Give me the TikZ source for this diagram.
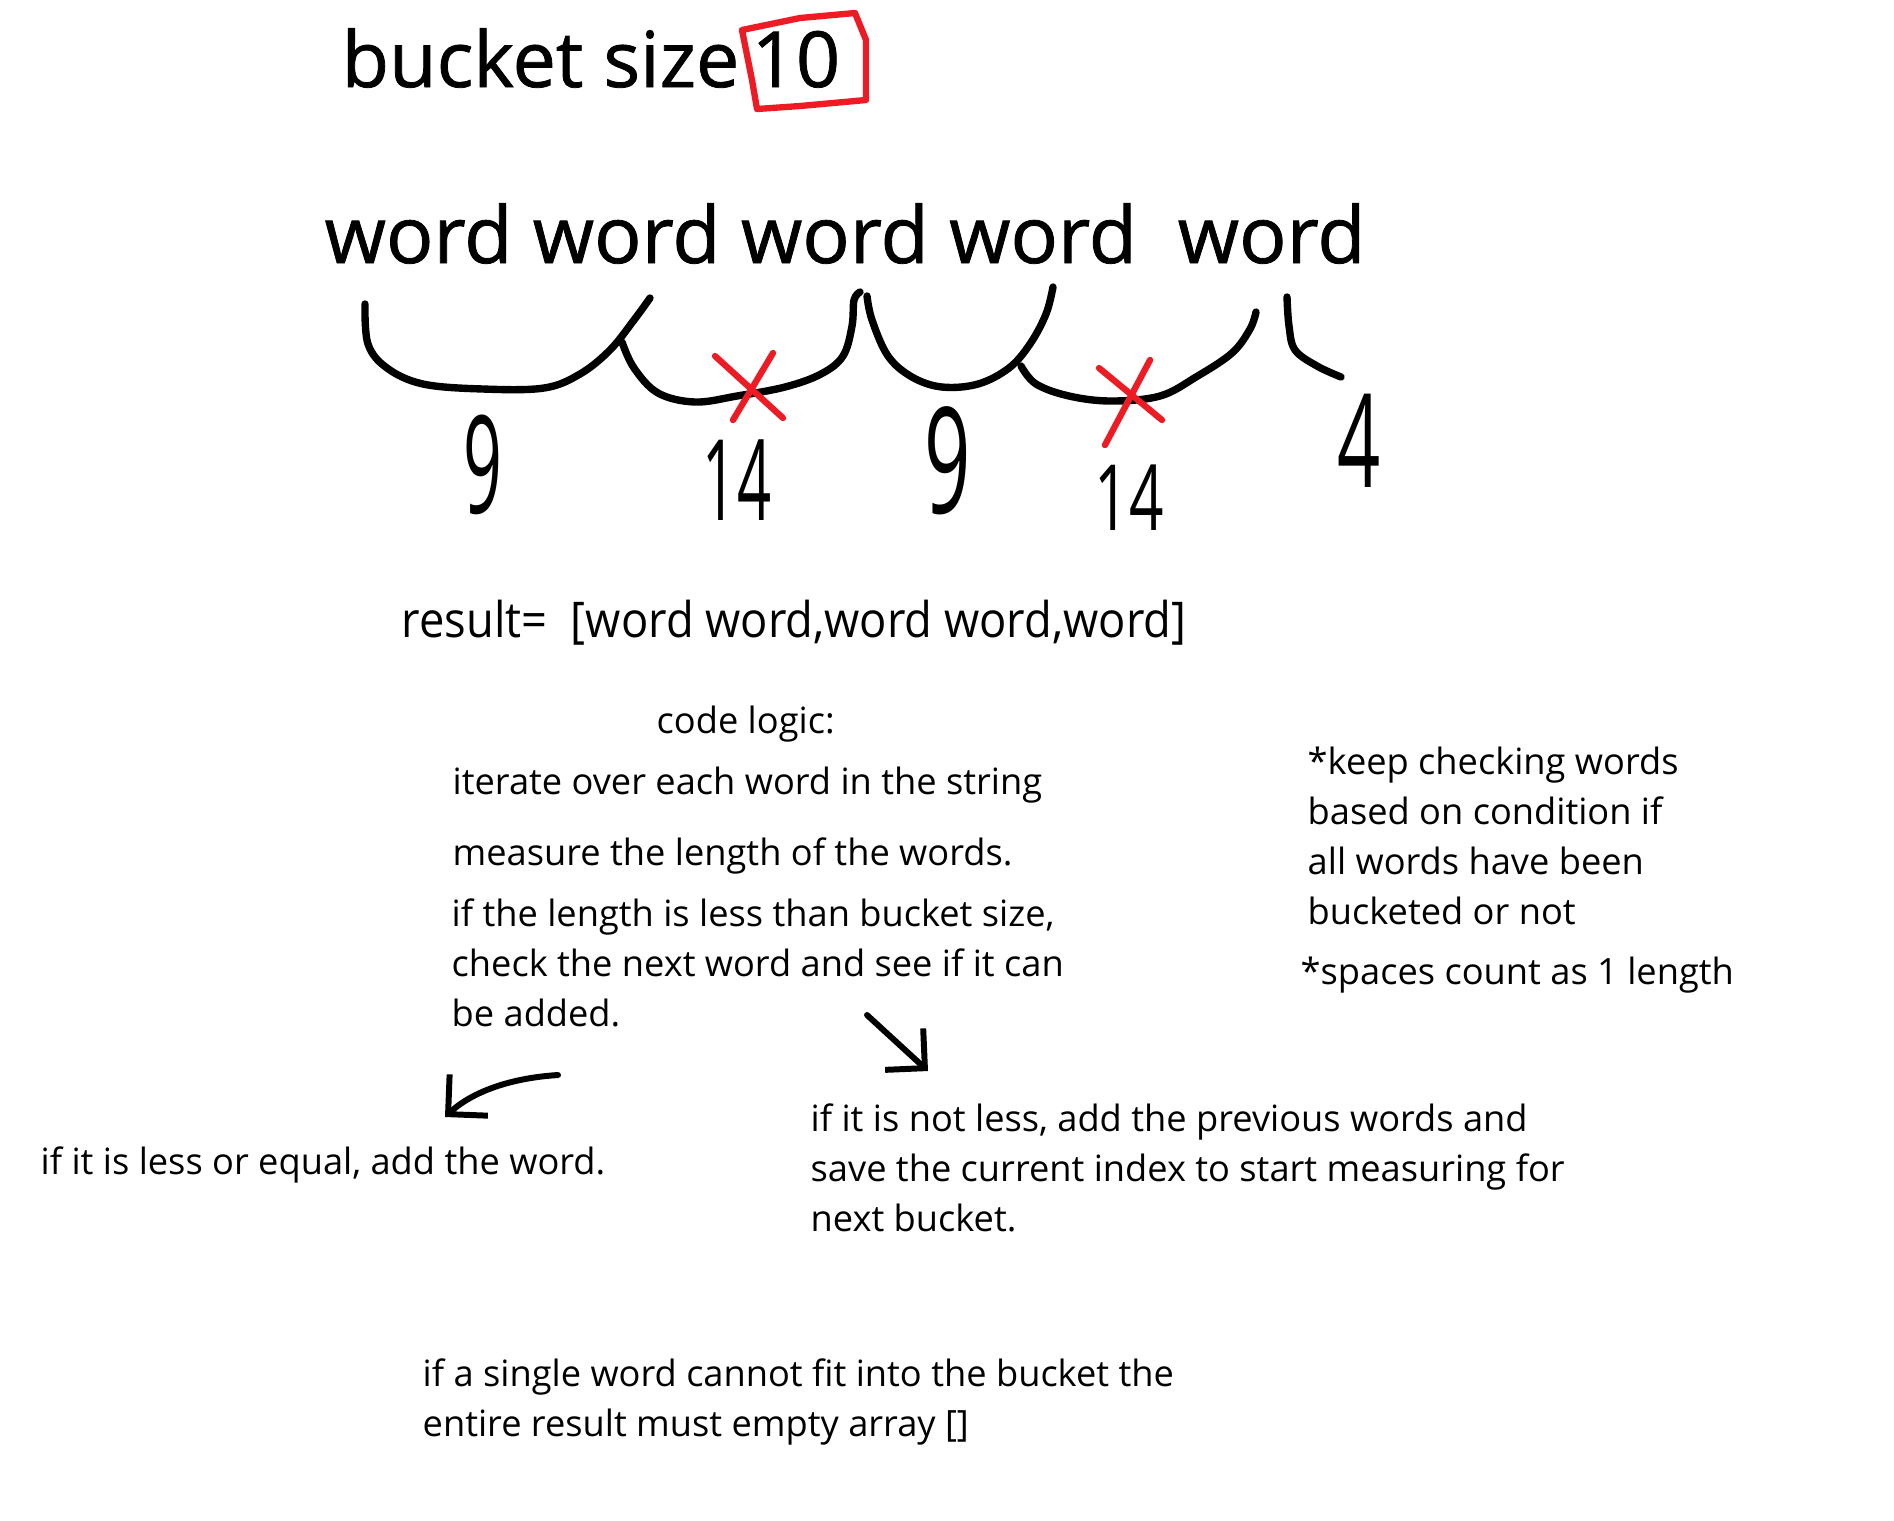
\documentclass[tikz,border=0pt]{standalone}
\usepackage{fontspec}
\setmainfont{Open Sans}
\newfontfamily\narrowfont[FakeStretch=0.92]{Open Sans}
\newfontfamily\heavyfont[FakeBold=1]{Open Sans}
\usetikzlibrary{arrows.meta}
\definecolor{paintred}{RGB}{237,28,36}

\begin{document}
\begin{tikzpicture}[x=0.01cm, y=-0.01cm]
    \tikzset{
        big/.style={anchor=base west, inner sep=0pt, font=\heavyfont\fontsize{22}{26}\selectfont},
        mid/.style={anchor=base west, inner sep=0pt, font=\narrowfont\fontsize{14}{17}\selectfont},
        txt/.style={anchor=base west, inner sep=0pt, align=left, font=\fontsize{10.3}{14.2}\selectfont},
        num/.style={inner sep=0pt},
        pen/.style={line width=2.1pt, line cap=round, line join=round},
        redpen/.style={pen, paintred, line width=1.8pt},
        arrow/.style={pen, line width=1.7pt, -{Straight Barb[length=8pt, width=16pt, line width=1.7pt]}}
    }
    \useasboundingbox (0,0) rectangle (1894,1520);

    \node[big] (title) at (341,87) {bucket size};
    \node[big] (ten) at (751,87) {10};
    \draw[redpen] (742,30) -- (800,18) -- (855,13) -- (866,40) -- (866,100) -- (800,106) -- (757,109) -- (752,80) -- cycle;

    \node[big, font=\heavyfont\fontsize{22.4}{26}\selectfont] (words) at (324,263) {word word word word \ word};

    \draw[pen] plot[smooth, tension=0.6] coordinates {(365,304) (368,344) (387,368) (423,384) (483,389) (544,388) (580,374) (610,350) (634,320) (650,298)};
    \draw[pen] plot[smooth, tension=0.6] coordinates {(622,342) (634,368) (658,393) (695,402) (737,396) (785,387) (821,374) (843,356) (852,326) (854,300) (860,292)};
    \draw[pen] plot[smooth, tension=0.6] coordinates {(867,296) (872,320) (888,356) (912,377) (942,387) (978,384) (1009,368) (1030,344) (1046,314) (1053,287)};
    \draw[pen] plot[smooth, tension=0.6] coordinates {(1021,366) (1036,384) (1069,396) (1111,401) (1160,396) (1196,377) (1232,353) (1250,329) (1256,312)};
    \draw[pen] plot[smooth, tension=0.6] coordinates {(1287,297) (1289,326) (1295,350) (1317,366) (1341,377)};

    \draw[redpen] (715,356) -- (783,418);
    \draw[redpen] (773,353) -- (733,420);
    \draw[redpen] (1099,368) -- (1162,420);
    \draw[redpen] (1150,360) -- (1105,445);

    \node[num, font=\fontsize{38.7}{40}\selectfont] (n1) at (483,465) {\scalebox{0.5}[1]{9}};
    \node[num, font=\fontsize{32}{34}\selectfont] (n2) at (737,480) {\scalebox{0.53}[1]{14}};
    \node[num, font=\fontsize{42}{44}\selectfont] (n3) at (948,461) {\scalebox{0.55}[1]{9}};
    \node[num, font=\fontsize{26}{28}\selectfont] (n4) at (1129,498) {\scalebox{0.66}[1]{14}};
    \node[num, font=\fontsize{37}{39}\selectfont] (n5) at (1359,441) {\scalebox{0.58}[1]{4}};

    \node[mid] (result) at (401,637) {result=\ \ [word word,word word,word]};

    \node[txt] (logic) at (656,733) {code logic:};
    \node[txt] (iterate) at (452,794) {iterate over each word in the string};
    \node[txt] (measure) at (452,865) {measure the length of the words.};
    \node[txt] (check) at (451,1026) {if the length is less than bucket size,\\check the next word and see if it can\\be added.};

    \node[txt] (keep) at (1307,924) {*keep checking words\\based on condition if\\all words have been\\bucketed or not};
    \node[txt] (spaces) at (1300,984) {*spaces count as 1 length};

    \node[txt] (less) at (40,1174) {if it is less or equal, add the word.};
    \node[txt] (notless) at (810,1231) {if it is not less, add the previous words and\\save the current index to start measuring for\\next bucket.};

    \node[txt] (single) at (422,1436) {if a single word cannot fit into the bucket the\\entire result must empty array []};

    \coordinate (a1) at (867,1015);
    \coordinate (a2) at (928,1071);
    \coordinate (b1) at (558,1075);
    \coordinate (b2) at (445,1117);
    \draw[arrow] (a1) -- (a2);
    \draw[arrow] (b1) .. controls (510,1078) and (472,1092) .. (b2);
\end{tikzpicture}
\end{document}
